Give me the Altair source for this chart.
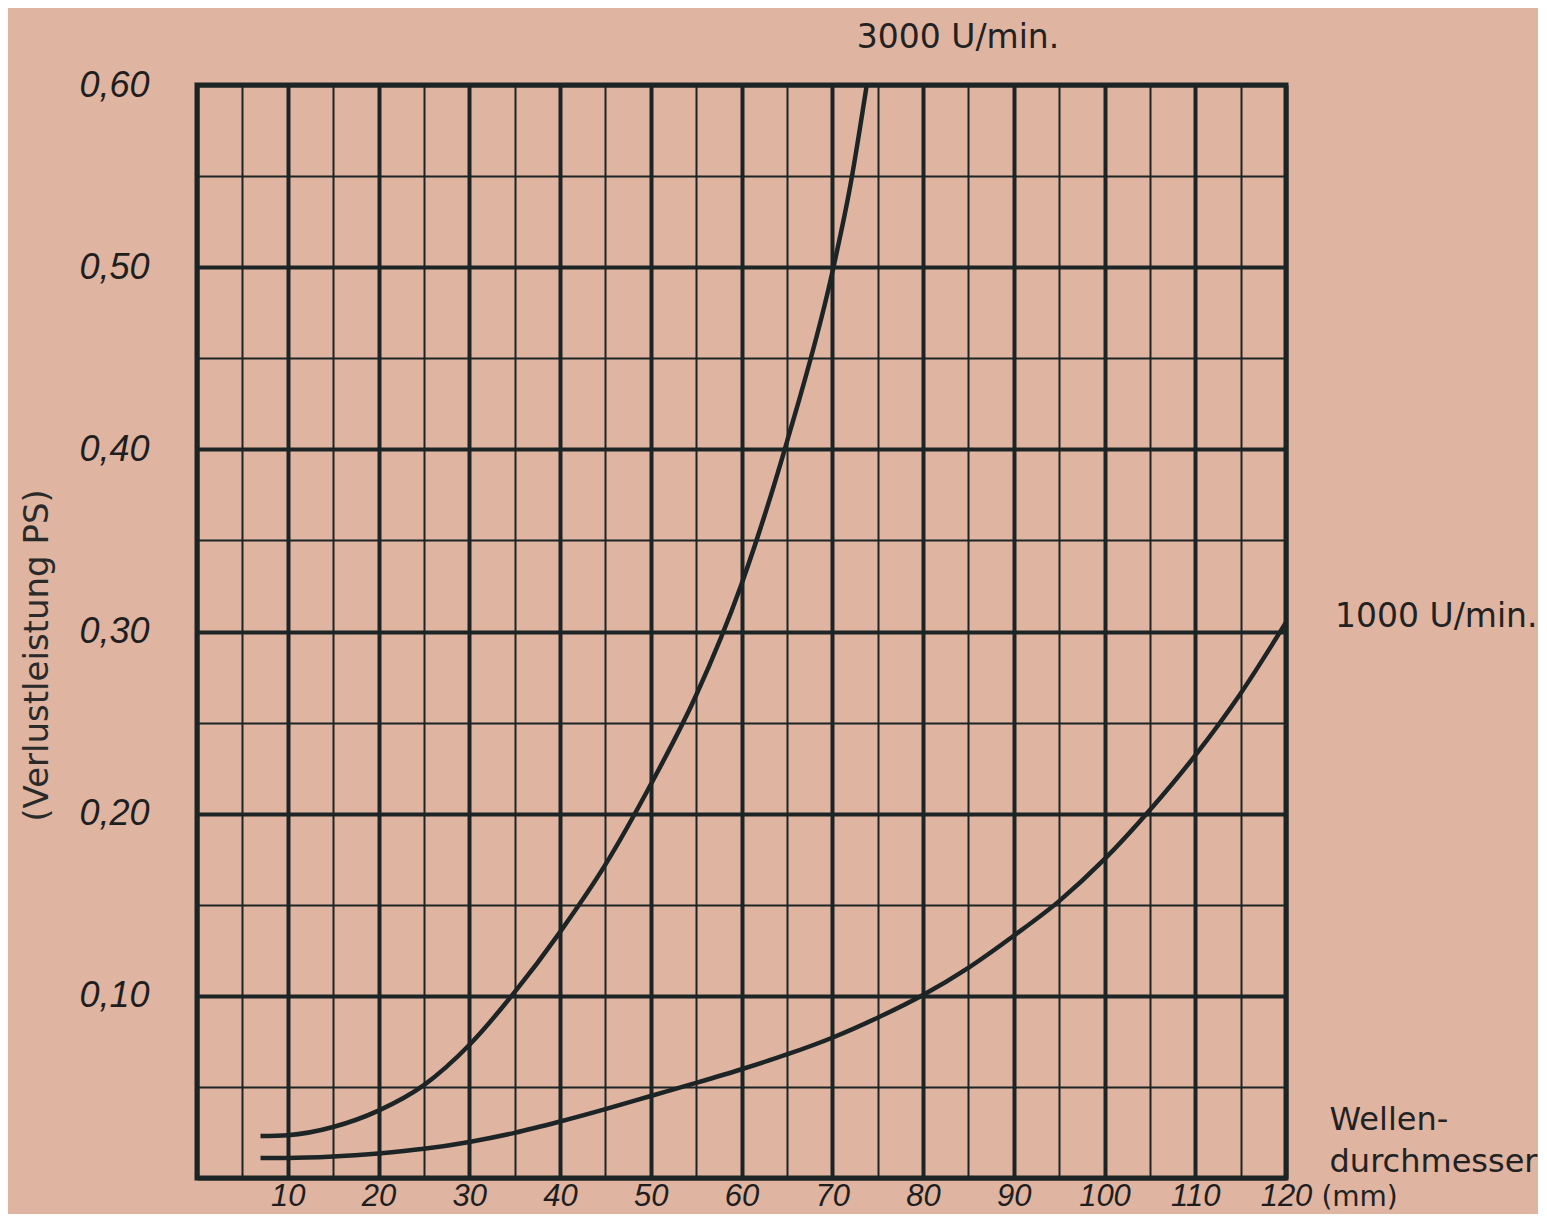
import altair as alt
import pandas as pd

# Wellendurchmesser (mm) and Verlustleistung (PS)
x_3000 = [7, 10, 15, 20, 25, 30, 35, 40, 45, 50, 55, 60, 65, 70, 72, 73.8]
y_3000 = [0.023, 0.0235, 0.028, 0.037, 0.051, 0.073, 0.102, 0.135, 0.172,
          0.216, 0.265, 0.326, 0.404, 0.497, 0.545, 0.60]

x_1000 = [7, 10, 15, 20, 25, 30, 35, 40, 45, 50, 55, 60, 65, 70, 75, 80, 85,
          90, 95, 100, 105, 110, 115, 120]
y_1000 = [0.011, 0.011, 0.0118, 0.0135, 0.016, 0.0198, 0.0248, 0.031, 0.0378,
          0.045, 0.0522, 0.0597, 0.0678, 0.077, 0.088, 0.1005, 0.1154, 0.133,
          0.152, 0.175, 0.202, 0.232, 0.266, 0.305]

x_ticks = list(range(0, 125, 5))
y_ticks = [round(i * 0.05, 2) for i in range(13)]

ann_text = ["3000 U/min.", "1000 U/min.", "Wellen-", "durchmesser", "(mm)"]
ann_x = [72.7, 125.4, 124.8, 124.8, 123.9]
ann_y = [0.6201, 0.3026, 0.0263, 0.0033, -0.0154]
ann_size = [33, 33, 32, 32, 28]

BG = "#DFB4A1"
INK = "#1c2425"

df = pd.concat([
    pd.DataFrame({"d": x_3000, "p": y_3000, "n": "3000"}),
    pd.DataFrame({"d": x_1000, "p": y_1000, "n": "1000"}),
])
ann = pd.DataFrame({"x": ann_x, "y": ann_y, "t": ann_text, "s": ann_size})

x_axis = alt.Axis(
    values=x_ticks, grid=True, ticks=False, domain=False, title=None,
    labelExpr="datum.value % 10 === 0 && datum.value > 0 ? datum.value : ''",
    labelFont="Liberation Sans", labelFontStyle="italic", labelFontSize=31,
    labelColor="#1e1e1e", labelPadding=3, labelBaseline="top",
    labelFlush=False, labelOverlap=False,
    gridColor=INK,
    gridWidth={"condition": {"test": "datum.value % 10 === 0", "value": 4}, "value": 2},
)
y_axis = alt.Axis(
    values=y_ticks, grid=True, ticks=False, domain=False,
    title="(Verlustleistung PS)",
    titleFont="DejaVu Sans", titleFontSize=34, titleFontWeight="normal",
    titleColor="#2a2a2a", titleAngle=270, titleX=-160, titleY=570,
    titleAlign="center", titleBaseline="middle",
    labelExpr="datum.value > 0.001 && round(datum.value * 20) % 2 === 0 ? replace(format(datum.value, '.2f'), '.', ',') : ''",
    labelFont="Liberation Sans", labelFontStyle="italic", labelFontSize=36,
    labelColor="#1e1e1e", labelPadding=48, labelBaseline="middle",
    labelFlush=False, labelOverlap=False,
    gridColor=INK,
    gridWidth={"condition": {"test": "round(datum.value * 20) % 2 === 0", "value": 4}, "value": 2},
)

xs = alt.Scale(domain=[0, 120], nice=False, zero=False)
ys = alt.Scale(domain=[0, 0.6], nice=False, zero=False)

lines = alt.Chart(df).mark_line(
    color=INK, strokeWidth=4.5, interpolate="monotone"
).encode(
    x=alt.X("d:Q", scale=xs, axis=x_axis),
    y=alt.Y("p:Q", scale=ys, axis=y_axis),
    detail="n:N",
)

texts = alt.Chart(ann).mark_text(
    align="left", baseline="alphabetic", font="DejaVu Sans",
    color="#222222",
).encode(
    x=alt.X("x:Q", scale=xs, axis=x_axis),
    y=alt.Y("y:Q", scale=ys, axis=y_axis),
    text="t:N",
    size=alt.Size("s:Q", scale=None, legend=None),
)

chart = alt.layer(lines, texts).properties(
    width=1089, height=1093,
    padding={"left": 189, "top": 77, "right": 252, "bottom": 36},
    autosize=alt.AutoSizeParams(type="none"),
    background=BG,
).configure_view(
    stroke=INK, strokeWidth=5,
)

chart.save("out.html", embed_options={"renderer": "svg", "actions": False})
